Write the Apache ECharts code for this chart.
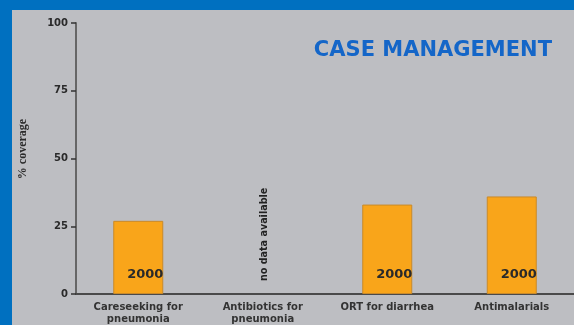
<!DOCTYPE html>
<html>
<head>
<meta charset="utf-8">
<script src="https://cdn.jsdelivr.net/npm/echarts@6/dist/echarts.min.js"></script>
<style>
  html, body { margin: 0; padding: 0; }
  #caseChart { width: 574px; height: 325px; }
</style>
</head>
<body>
<div id="caseChart"></div>
<script>
  var categories = ['Careseeking for\npneumonia', 'Antibiotics for\npneumonia', 'ORT for diarrhea', 'Antimalarials']
  var coverage = [27, null, 33, 36]
  var years = ['2000', '', '2000', '2000']
  var notes = ['', 'no data available', '', '']
  var yTicks = [0, 25, 50, 75, 100]

  var chart = echarts.init(document.getElementById('caseChart'))
  chart.setOption({
    backgroundColor: '#bdbec2',
    animation: false,
    title: {
      text: 'CASE MANAGEMENT',
      right: 17,
      top: 35,
      textStyle: {
        color: '#1466c8',
        fontFamily: 'DejaVu Sans',
        fontWeight: 'bold',
        fontSize: 21
      }
    },
    grid: { left: 76, right: 0, top: 23, bottom: 30 },
    xAxis: {
      type: 'category',
      data: categories,
      axisLine: { lineStyle: { color: '#4a4a4a', width: 2 } },
      axisTick: { length: 4, lineStyle: { color: '#4a4a4a' } },
      axisLabel: {
        color: '#333',
        fontFamily: 'DejaVu Sans',
        fontWeight: 'bold',
        fontSize: 10,
        lineHeight: 12,
        margin: 7
      }
    },
    yAxis: {
      type: 'value',
      min: yTicks[0],
      max: yTicks[yTicks.length - 1],
      interval: 25,
      splitLine: { show: false },
      axisLine: { show: true, lineStyle: { color: '#666', width: 2 } },
      axisTick: { show: true, length: 5, lineStyle: { color: '#333', width: 1.5 } },
      axisLabel: {
        color: '#2a2a2a',
        fontFamily: 'DejaVu Sans',
        fontWeight: 'bold',
        fontSize: 10,
        margin: 8
      }
    },
    series: [{
      type: 'bar',
      data: coverage,
      barWidth: 50,
      itemStyle: { color: '#f9a51a', borderColor: '#c98a2a', borderWidth: 1 },
      label: {
        show: true,
        position: 'insideBottom',
        distance: 13,
        offset: [7, 0],
        color: '#2a2a2a',
        fontFamily: 'DejaVu Sans',
        fontWeight: 'bold',
        fontSize: 13,
        formatter: function (p) { return years[p.dataIndex] }
      }
    }],
    graphic: [
      { type: 'rect', shape: { x: 0, y: 0, width: 574, height: 10 }, style: { fill: '#0070c0' }, z: 100 },
      { type: 'rect', shape: { x: 0, y: 0, width: 12, height: 325 }, style: { fill: '#0070c0' }, z: 100 },
      {
        type: 'text', x: 23, y: 149, rotation: Math.PI / 2,
        style: {
          text: '% coverage', fill: '#2a2a2a',
          font: 'bold 12px "Liberation Serif"',
          textAlign: 'center', textVerticalAlign: 'middle'
        }
      }
    ]
  })

  // notes for categories without data, placed through the axes
  var extra = []
  notes.forEach(function (n, i) {
    if (!n) return
    var pt = chart.convertToPixel({ seriesIndex: 0 }, [i, 22])
    extra.push({
      type: 'text', x: pt[0] + 2, y: pt[1], rotation: Math.PI / 2,
      style: {
        text: n, fill: '#222',
        font: 'bold 9.6px "DejaVu Sans"',
        textAlign: 'center', textVerticalAlign: 'middle'
      }
    })
  })
  chart.setOption({ graphic: chart.getOption().graphic[0].elements.concat(extra) })
</script>
</body>
</html>
